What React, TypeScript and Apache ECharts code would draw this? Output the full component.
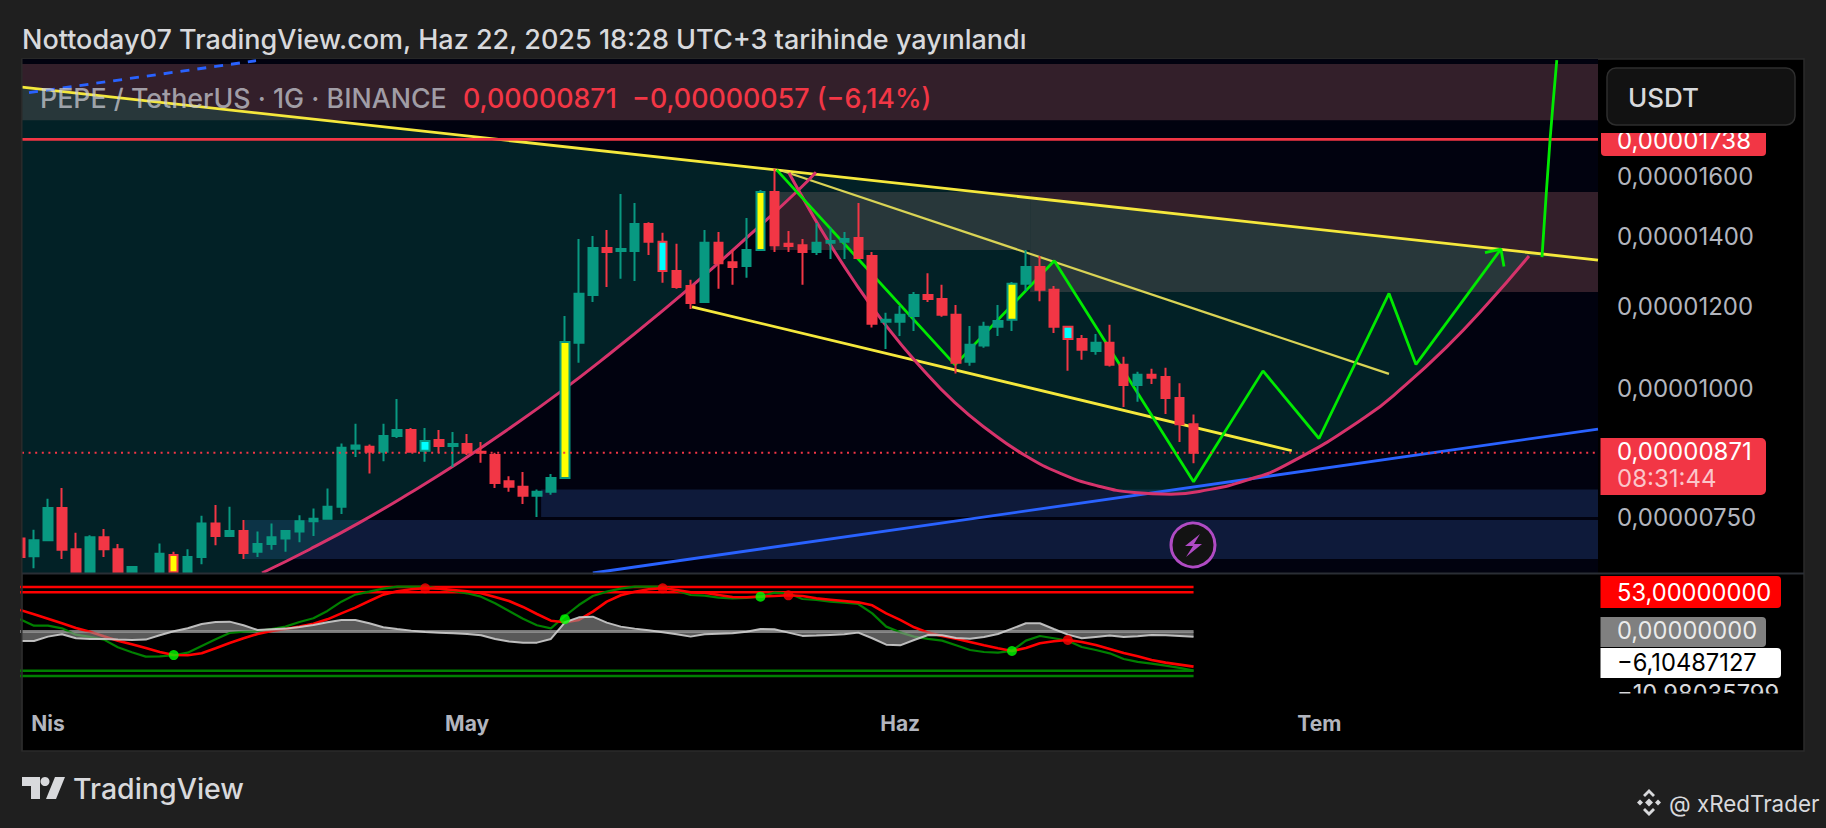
import React, { useEffect, useRef } from "react";
import * as echarts from "echarts";

// prices are in units of 1e-8 USDT; x is days since 1 April
const firstDay = -2;
const candles = [
  [716,687,682,727],[688,713,670,730],[713,766,712,782],[766,698,684,801],[699,664,663,725],[664,718,663,721],[718,699,687,731],[699,664,663,707],
  [663,672,663,673],null,[663,692,663,708],[690,664,663,695],[663,687,663,699],[687,740,676,753],[740,720,705,771],[720,728,720,768],
  [728,693,684,746],[695,707,687,727],[707,718,698,740],[716,728,695,728],[727,744,710,754],[744,748,720,765],[748,768,748,800],[768,876,756,884],
  [874,880,858,924],[878,868,827,882],[868,899,850,924],[899,911,895,976],[911,868,866,915],[870,889,849,915],[891,879,866,911],[879,883,839,907],
  [883,866,862,903],[868,866,847,887],[862,810,801,866],[813,803,794,822],[803,787,773,830],[787,794,751,798],[794,819,789,826],[819,1108,817,1174],
  [1106,1233,1058,1393],[1230,1365,1211,1402],[1365,1353,1252,1421],[1356,1362,1275,1539],[1356,1440,1269,1509],[1440,1384,1344,1446],[1384,1297,1264,1412],[1297,1252,1247,1378],
  [1255,1208,1192,1272],[1211,1381,1208,1421],[1381,1320,1247,1415],[1323,1309,1258,1359],[1312,1359,1278,1459],[1359,1546,1359,1553],[1546,1374,1353,1628],[1378,1371,1353,1418],
  [1374,1353,1258,1393],[1353,1381,1344,1443],[1381,1387,1332,1428],[1384,1393,1332,1415],[1396,1335,1335,1509],[1341,1154,1144,1353],[1159,1164,1091,1182],[1159,1177,1123,1200],
  [1174,1230,1135,1238],[1230,1219,1211,1291],[1219,1177,1172,1258],[1177,1058,1033,1203],[1060,1101,1051,1148],[1099,1146,1094,1159],[1146,1161,1123,1203],[1164,1261,1135,1266],
  [1261,1309,1241,1359],[1309,1244,1213,1341],[1244,1146,1130,1255],[1146,1115,1039,1146],[1115,1089,1065,1125],[1086,1106,1077,1128],[1106,1053,1049,1151],[1053,1007,959,1072],
  [1007,1030,970,1037],[1030,1023,1009,1044],[1025,978,944,1046],[978,923,887,1011],[923,866,846,943],
];
const yellowDays = [9, 37, 51, 69];
const cyanDays = [27, 44, 73];

const priceTicks = [1600, 1400, 1200, 1000, 750];
const monthDays = [0, 30, 61, 91];
const monthLabels = ["Nis", "May", "Haz", "Tem"];
const resistance = 1738;
const lastPrice = 871;
const lastPriceLevel = 866;

const zoneStart = [-1.86, 51.7, 70.3, 35.3, 14.1];
const zoneEnd = [110.95, 70.3, 110.95, 110.95, 110.95];
const zoneHigh = [2055, 1546, 1546, 798, 746];
const zoneLow = [1814, 1359, 1238, 751, 684];

const topLine = [[-1.86, 1952], [110.95, 1329]];
const channelUpper = [[52.6, 1620], [95.99, 1032]];
const channelLower = [[46.1, 1198], [89.03, 870]];
const blueLine = [[39, 663], [110.95, 913]];
const blueDashed = [[-1.36, 1928], [14.89, 2070]];
const risingCurve = [[15.32, 663], [18.75, 699], [22.33, 742], [25.91, 792], [29.49, 849], [33.07, 915], [36.65, 991], [40.23, 1080], [43.81, 1182], [47.39, 1299], [50.97, 1435], [53.72, 1553], [54.97, 1616]];
const cupCurve = [[53.04, 1613], [53.72, 1553], [55.36, 1421], [57.7, 1268], [60.07, 1145], [62.49, 1047], [64.92, 968], [67.43, 908], [69.94, 861], [72.51, 827], [75.09, 805], [77.74, 793], [80.39, 790], [83.11, 798], [85.83, 815], [88.62, 843], [94.27, 937], [97.14, 1006], [100.07, 1094], [103, 1204], [106.01, 1341]];
const projection = [[52.16, 1624], [64.93, 1053], [72.03, 1327], [82, 812], [86.97, 1039], [90.98, 894], [95.99, 1234], [97.92, 1054], [104, 1362]];
const arrowHead = [[102.86, 1351], [104, 1362], [104.22, 1310]];
const rocket = [[106.94, 1338], [107.52, 1738], [108, 2073]];

const wtSignal = [29.0,23.2,17.3,11.1,4.8,-0.2,-6.5,-12.3,-17.2,-22.2,-27.6,-31.6,-32.0,-29.3,-22.6,-15.4,-9.1,-3.3,0.7,3.4,6.6,10.6,16.4,24.5,32.2,41.1,49.7,54.2,56.9,58.2,57.8,56.0,54.2,51.5,46.5,41.1,33.1,23.6,14.6,12.4,15.6,26.8,40.2,48.8,53.7,56.9,58.2,56.0,52.8,52.4,49.2,46.5,46.1,47.0,47.9,48.8,47.9,44.7,42.9,41.1,39.3,35.3,24.5,15.6,5.7,-1.5,-6.0,-9.6,-14.1,-18.6,-22.6,-26.2,-22.2,-15.9,-13.2,-11.4,-14.1,-18.1,-23.5,-28.9,-33.4,-38.3,-41.9,-44.6,-47.3];
const wtMain = [16.4,7.9,7.9,4.3,-4.2,-7.3,-10.9,-21.3,-28.0,-33.8,-33.4,-32.0,-28.5,-19.5,-10.5,-2.0,-0.2,0.7,3.4,6.6,12.9,17.8,27.7,40.2,49.7,53.7,57.8,60.4,60.4,60.4,57.8,54.6,51.5,47.0,38.0,27.7,17.3,8.4,4.3,20.9,35.7,47.9,53.7,57.8,60.4,60.4,60.4,55.1,49.2,48.3,45.6,44.7,45.2,47.0,52.4,51.5,43.8,42.5,40.2,38.9,37.1,24.5,6.6,-1.1,-6.9,-10.0,-12.3,-18.6,-24.9,-27.6,-28.5,-26.2,-12.3,-6.0,-9.1,-12.3,-20.8,-24.9,-29.4,-37.0,-41.0,-43.3,-46.0,-49.1,-52.7];
const wtHist = [-12.7,-12.7,-6.9,-3.8,-9.1,-10.0,-10.0,-10.9,-11.4,-10.9,-5.1,0.3,4.3,10.2,12.9,13.3,8.4,2.1,3.0,3.9,6.1,8.8,12.4,15.6,15.6,11.1,5.7,3.4,1.2,-0.6,-1.5,-2.4,-3.3,-5.1,-10.0,-13.6,-15.0,-15.0,-10.0,12.4,19.1,20.0,12.0,6.6,3.9,1.6,-1.1,-3.8,-6.9,-3.8,-2.9,-2.4,-0.2,3.4,3.0,-1.5,-5.9,-5.5,-4.6,-3.8,-1.5,-9.1,-17.7,-18.6,-11.4,-4.7,-5.1,-8.7,-9.6,-7.3,-3.3,3.9,11.1,11.1,3.4,-4.2,-9.1,-7.3,-5.5,-7.3,-6.4,-4.7,-5.1,-6.0,-6.9];
const wtLevels = [60, 53, 0, -53, -60];
const buyDays = [9, 37, 51, 69];
const sellDays = [27, 44, 53, 73];

const title = "Nottoday07 TradingView.com, Haz 22, 2025 18:28 UTC+3 tarihinde yayınlandı";
const symbolText = "PEPE / TetherUS · 1G · BINANCE";
const closeText = "0,00000871";
const changeText = "−0,00000057 (−6,14%)";
const countdown = "08:31:44";
const pane2Values = ["53,00000000", "0,00000000", "−6,10487127", "−10,98035799"];

const xMin = -1.86;
const xMax = 110.95;
const yMin = 663;
const yMax = 2078;

const RED = "#f23645";
const GREEN = "#089981";
const FF = "Inter, 'Noto Sans', sans-serif";
const fmtPrice = (v: number) => (v / 1e8).toFixed(8).replace(".", ",");

function line(data: number[][], color: string, width: number, extra: any = {}) {
  return {
    type: "line", data, symbol: "none", silent: true, z: 3, clip: true,
    lineStyle: { color, width, ...(extra.lineStyle || {}) },
    ...(extra.smooth != null ? { smooth: extra.smooth } : {}),
    ...(extra.z != null ? { z: extra.z } : {}),
  };
}
function wt(values: number[]) { return values.map((v, i) => [firstDay + i, v]); }
function pane2Line(data: number[][], color: string, width: number, z: number) {
  return { type: "line", xAxisIndex: 1, yAxisIndex: 1, data, symbol: "none", silent: true, z, lineStyle: { color, width } };
}
function text(t: string, x: number, y: number, size: number, fill: string, z = 100, weight = 400, align = "left") {
  return { type: "text", z, silent: true, style: { text: t, x, y, fill, align, verticalAlign: "middle", font: `${weight} ${size}px ${FF}` } };
}
function box(x: number, y: number, w: number, h: number, fill: string, z = 99, r: any = 0, stroke?: string) {
  return { type: "rect", z, silent: true, shape: { x, y, width: w, height: h, r }, style: { fill, stroke, lineWidth: stroke ? 1.5 : 0 } };
}
function poly(points: number[][], fill: string, z = 100) {
  return { type: "polygon", z, silent: true, shape: { points }, style: { fill } };
}

export default function App() {
  const ref = useRef<HTMLDivElement>(null);
  useEffect(() => {
    document.body.style.margin = "0";
    document.body.style.background = "#1f1f1f";
    const chart = echarts.init(ref.current!, undefined, { renderer: "svg" });
    const candleData: any[] = [];
    candles.forEach((c, i) => {
      if (!c) return;
      const day = firstDay + i;
      const value = [day, ...c];
      const up = c[1] >= c[0];
      const border = up ? GREEN : RED;
      const fill = yellowDays.includes(day) ? "#ffff00" : cyanDays.includes(day) ? "#00ffff" : null;
      candleData.push(fill ? { value, itemStyle: { color: fill, color0: fill, borderColor: border, borderColor0: border } } : { value });
    });
    const tealOutline = [...topLine, ...[...cupCurve].reverse().filter((p) => p[0] >= 53.72), ...[...risingCurve].filter((p) => p[0] < 53.72).reverse(), [xMin, yMin]];
    const zoneColors = ["#331f2a", "#331f2a", "#331f2a", "#0e1a3a", "#0e1a3a"];

    chart.setOption({
      animation: false,
      backgroundColor: "#1f1f1f",
      grid: [
        { left: 22, top: 59, width: 1576, height: 514, show: true, backgroundColor: "#01020f", borderWidth: 0 },
        { left: 22, top: 574, width: 1576, height: 120 },
      ],
      xAxis: [
        { type: "value", gridIndex: 0, min: xMin, max: xMax, show: false, splitLine: { show: false } },
        {
          type: "value", gridIndex: 1, min: xMin, max: xMax, splitLine: { show: false },
          axisLine: { show: false }, axisTick: { show: false },
          axisLabel: {
            customValues: monthDays, margin: 19, color: "#b2b5be", fontFamily: FF, fontSize: 21, fontWeight: "bold",
            formatter: (v: number) => monthLabels[monthDays.indexOf(v)] ?? "",
          },
        },
      ],
      yAxis: [
        { type: "log", logBase: 10, gridIndex: 0, min: yMin, max: yMax, show: false, splitLine: { show: false } },
        { type: "value", gridIndex: 1, min: -84.2, max: 77.5, show: false, splitLine: { show: false } },
      ],
      series: [
        {
          type: "custom", silent: true, z: 1, clip: true,
          data: zoneStart.map((s, i) => [s, zoneEnd[i], zoneHigh[i], zoneLow[i], i]),
          encode: { x: [0, 1], y: [2, 3] },
          renderItem: (_: any, api: any) => {
            const a = api.coord([api.value(0), api.value(2)]);
            const b = api.coord([api.value(1), api.value(3)]);
            return { type: "rect", shape: { x: a[0], y: a[1], width: b[0] - a[0], height: b[1] - a[1] }, style: { fill: zoneColors[api.value(4)] } };
          },
        },
        {
          type: "custom", silent: true, z: 2, clip: true,
          data: [[0, 1000]],
          encode: { x: 0, y: 1 },
          renderItem: (_: any, api: any) => ({
            type: "polygon",
            shape: { points: tealOutline.map((p) => api.coord(p)) },
            style: { fill: "rgba(9,126,107,0.25)" },
          }),
        },
        line(topLine, "#f5e83c", 2.8),
        line(channelUpper, "#d9d355", 2.2),
        line(channelLower, "#f5e83c", 2.8),
        line(blueLine, "#2962ff", 2.8),
        line(blueDashed, "#2962ff", 2.8, { lineStyle: { type: [9, 8] } }),
        line([[xMin, resistance], [xMax, resistance]], RED, 2.8),
        line(risingCurve, "#d6336b", 3, { smooth: 0.5 }),
        line(cupCurve, "#d6336b", 3, { smooth: 0.5 }),
        line(projection, "#00ea00", 2.8),
        line(arrowHead, "#00ea00", 2.8),
        line(rocket, "#00ea00", 2.8, { smooth: 0.3 }),
        {
          type: "candlestick", z: 4, silent: true, clip: true, barWidth: 9,
          encode: { x: 0, y: [1, 2, 3, 4] },
          itemStyle: { color: GREEN, color0: RED, borderColor: GREEN, borderColor0: RED, borderWidth: 2 },
          data: candleData,
        },
        line([[xMin, lastPriceLevel], [xMax, lastPriceLevel]], RED, 2, { z: 5, lineStyle: { type: [2, 4.6] } }),
        {
          type: "custom", silent: true, z: 6, clip: false,
          data: priceTicks.map((p) => [0, p]),
          encode: { x: 0, y: 1 },
          renderItem: (_: any, api: any) => {
            const v = api.value(1);
            return { type: "text", style: { text: fmtPrice(v), x: 1617, y: api.coord([0, v])[1], fill: "#b2b5be", font: `400 24px ${FF}`, align: "left", verticalAlign: "middle" } };
          },
        },
        ...wtLevels.map((l) => pane2Line([[firstDay, l], [firstDay + wtMain.length - 1, l]],
          l > 0 ? "#ff0000" : l < 0 ? "#008000" : "#777777", l === 0 ? 3 : 2.5, 2)),
        pane2Line(wt(wtMain), "#008000", 2.2, 3),
        pane2Line(wt(wtSignal), "#ff0000", 2.6, 4),
        {
          type: "line", xAxisIndex: 1, yAxisIndex: 1, data: wt(wtHist), symbol: "none", silent: true, z: 5,
          lineStyle: { color: "rgba(205,205,205,0.9)", width: 2 },
          areaStyle: { color: "rgba(150,150,150,0.85)", origin: 0 },
        },
        {
          type: "scatter", xAxisIndex: 1, yAxisIndex: 1, symbolSize: 10, z: 6, silent: true, itemStyle: { color: "#00ff00" },
          data: buyDays.map((d) => [d, (wtSignal[d - firstDay] + wtMain[d - firstDay]) / 2]),
        },
        {
          type: "scatter", xAxisIndex: 1, yAxisIndex: 1, symbolSize: 10, z: 6, silent: true, itemStyle: { color: "#ff0000" },
          data: sellDays.map((d) => [d, wtSignal[d - firstDay]]),
        },
      ],
      graphic: { elements: [
        box(22, 59, 1782, 692, "#000000", -10, 0, "#2b2b2b"),
        box(0, 59, 21.5, 520, "#1f1f1f", 50),
        { type: "line", z: 51, silent: true, shape: { x1: 21.8, y1: 59, x2: 21.8, y2: 751 }, style: { stroke: "#2b2b2b", lineWidth: 1.5 } },
        text(title, 22, 39, 27, "#d8d9dc", 100, 500),
        text(symbolText, 40, 98, 26.8, "rgba(205,207,215,0.72)", 100, 500),
        text(closeText, 463, 98, 26.8, RED, 100, 500),
        text(changeText, 632, 98, 26.8, RED, 100, 500),
        { type: "line", z: 90, silent: true, shape: { x1: 22, y1: 573.5, x2: 1804, y2: 573.5 }, style: { stroke: "#2a2e35", lineWidth: 2 } },

        box(1601, 133, 165, 23, RED, 99, [0, 0, 4, 4]),
        text(fmtPrice(resistance), 1617, 140, 24, "#ffffff"),
        box(1601, 126, 165, 7, "#000000", 101),
        box(1607, 68, 188, 57, "#121212", 102, 9, "#2e2e2e"),
        text("USDT", 1628, 97, 26, "#d8d9dc", 103, 500),

        box(1600.5, 438, 165.5, 57, RED, 99, [0, 5, 5, 0]),
        text(fmtPrice(lastPrice), 1617, 451.5, 24, "#ffffff"),
        text(countdown, 1617, 478, 24, "rgba(255,255,255,0.72)"),

        box(1600.5, 576, 180.5, 32, "#ff0000", 99, [0, 4, 4, 0]),
        text(pane2Values[0], 1617, 592, 23.7, "#ffffff"),
        box(1600.5, 617, 165.5, 30, "#808080", 99, [0, 4, 4, 0]),
        text(pane2Values[1], 1617, 630, 23.7, "rgba(255,255,255,0.85)"),
        box(1600.5, 648, 180.5, 30, "#ffffff", 99, [0, 4, 4, 0]),
        text(pane2Values[2], 1617, 662, 23.7, "#000000"),
        text(pane2Values[3], 1617, 693.5, 23.7, "#d8d9dc"),
        box(1600, 693.5, 200, 22, "#000000", 101),

        { type: "circle", z: 100, silent: true, shape: { cx: 1193, cy: 545, r: 22 }, style: { fill: "#131313", stroke: "#b04bc4", lineWidth: 3 } },
        poly([[1200, 534], [1185, 546], [1193, 546], [1186, 557], [1202, 544], [1194, 544]], "#b04bc4"),

        poly([[22, 777], [40, 777], [40, 799], [31, 799], [31, 786], [22, 786]], "#d8d9dc"),
        { type: "circle", z: 100, silent: true, shape: { cx: 45, cy: 781.5, r: 4.5 }, style: { fill: "#d8d9dc" } },
        poly([[55, 777], [65, 777], [56, 799], [46, 799]], "#d8d9dc"),
        text("TradingView", 73, 788, 28.5, "#d8d9dc", 100, 500),

        poly([[1649, 789], [1655, 795], [1653, 797], [1649, 793], [1645, 797], [1643, 795]], "#d8d9dc"),
        poly([[1649, 816], [1655, 810], [1653, 808], [1649, 812], [1645, 808], [1643, 810]], "#d8d9dc"),
        poly([[1640, 799.5], [1643, 802.5], [1640, 805.5], [1637, 802.5]], "#d8d9dc"),
        poly([[1658, 799.5], [1661, 802.5], [1658, 805.5], [1655, 802.5]], "#d8d9dc"),
        poly([[1649, 798.5], [1653, 802.5], [1649, 806.5], [1645, 802.5]], "#d8d9dc"),
        text("@ xRedTrader", 1669, 803, 22.4, "#d8d9dc"),
      ] },
    });
    return () => chart.dispose();
  }, []);
  return <div ref={ref} style={{ position: "fixed", left: 0, top: 0, width: 1826, height: 828 }} />;
}
